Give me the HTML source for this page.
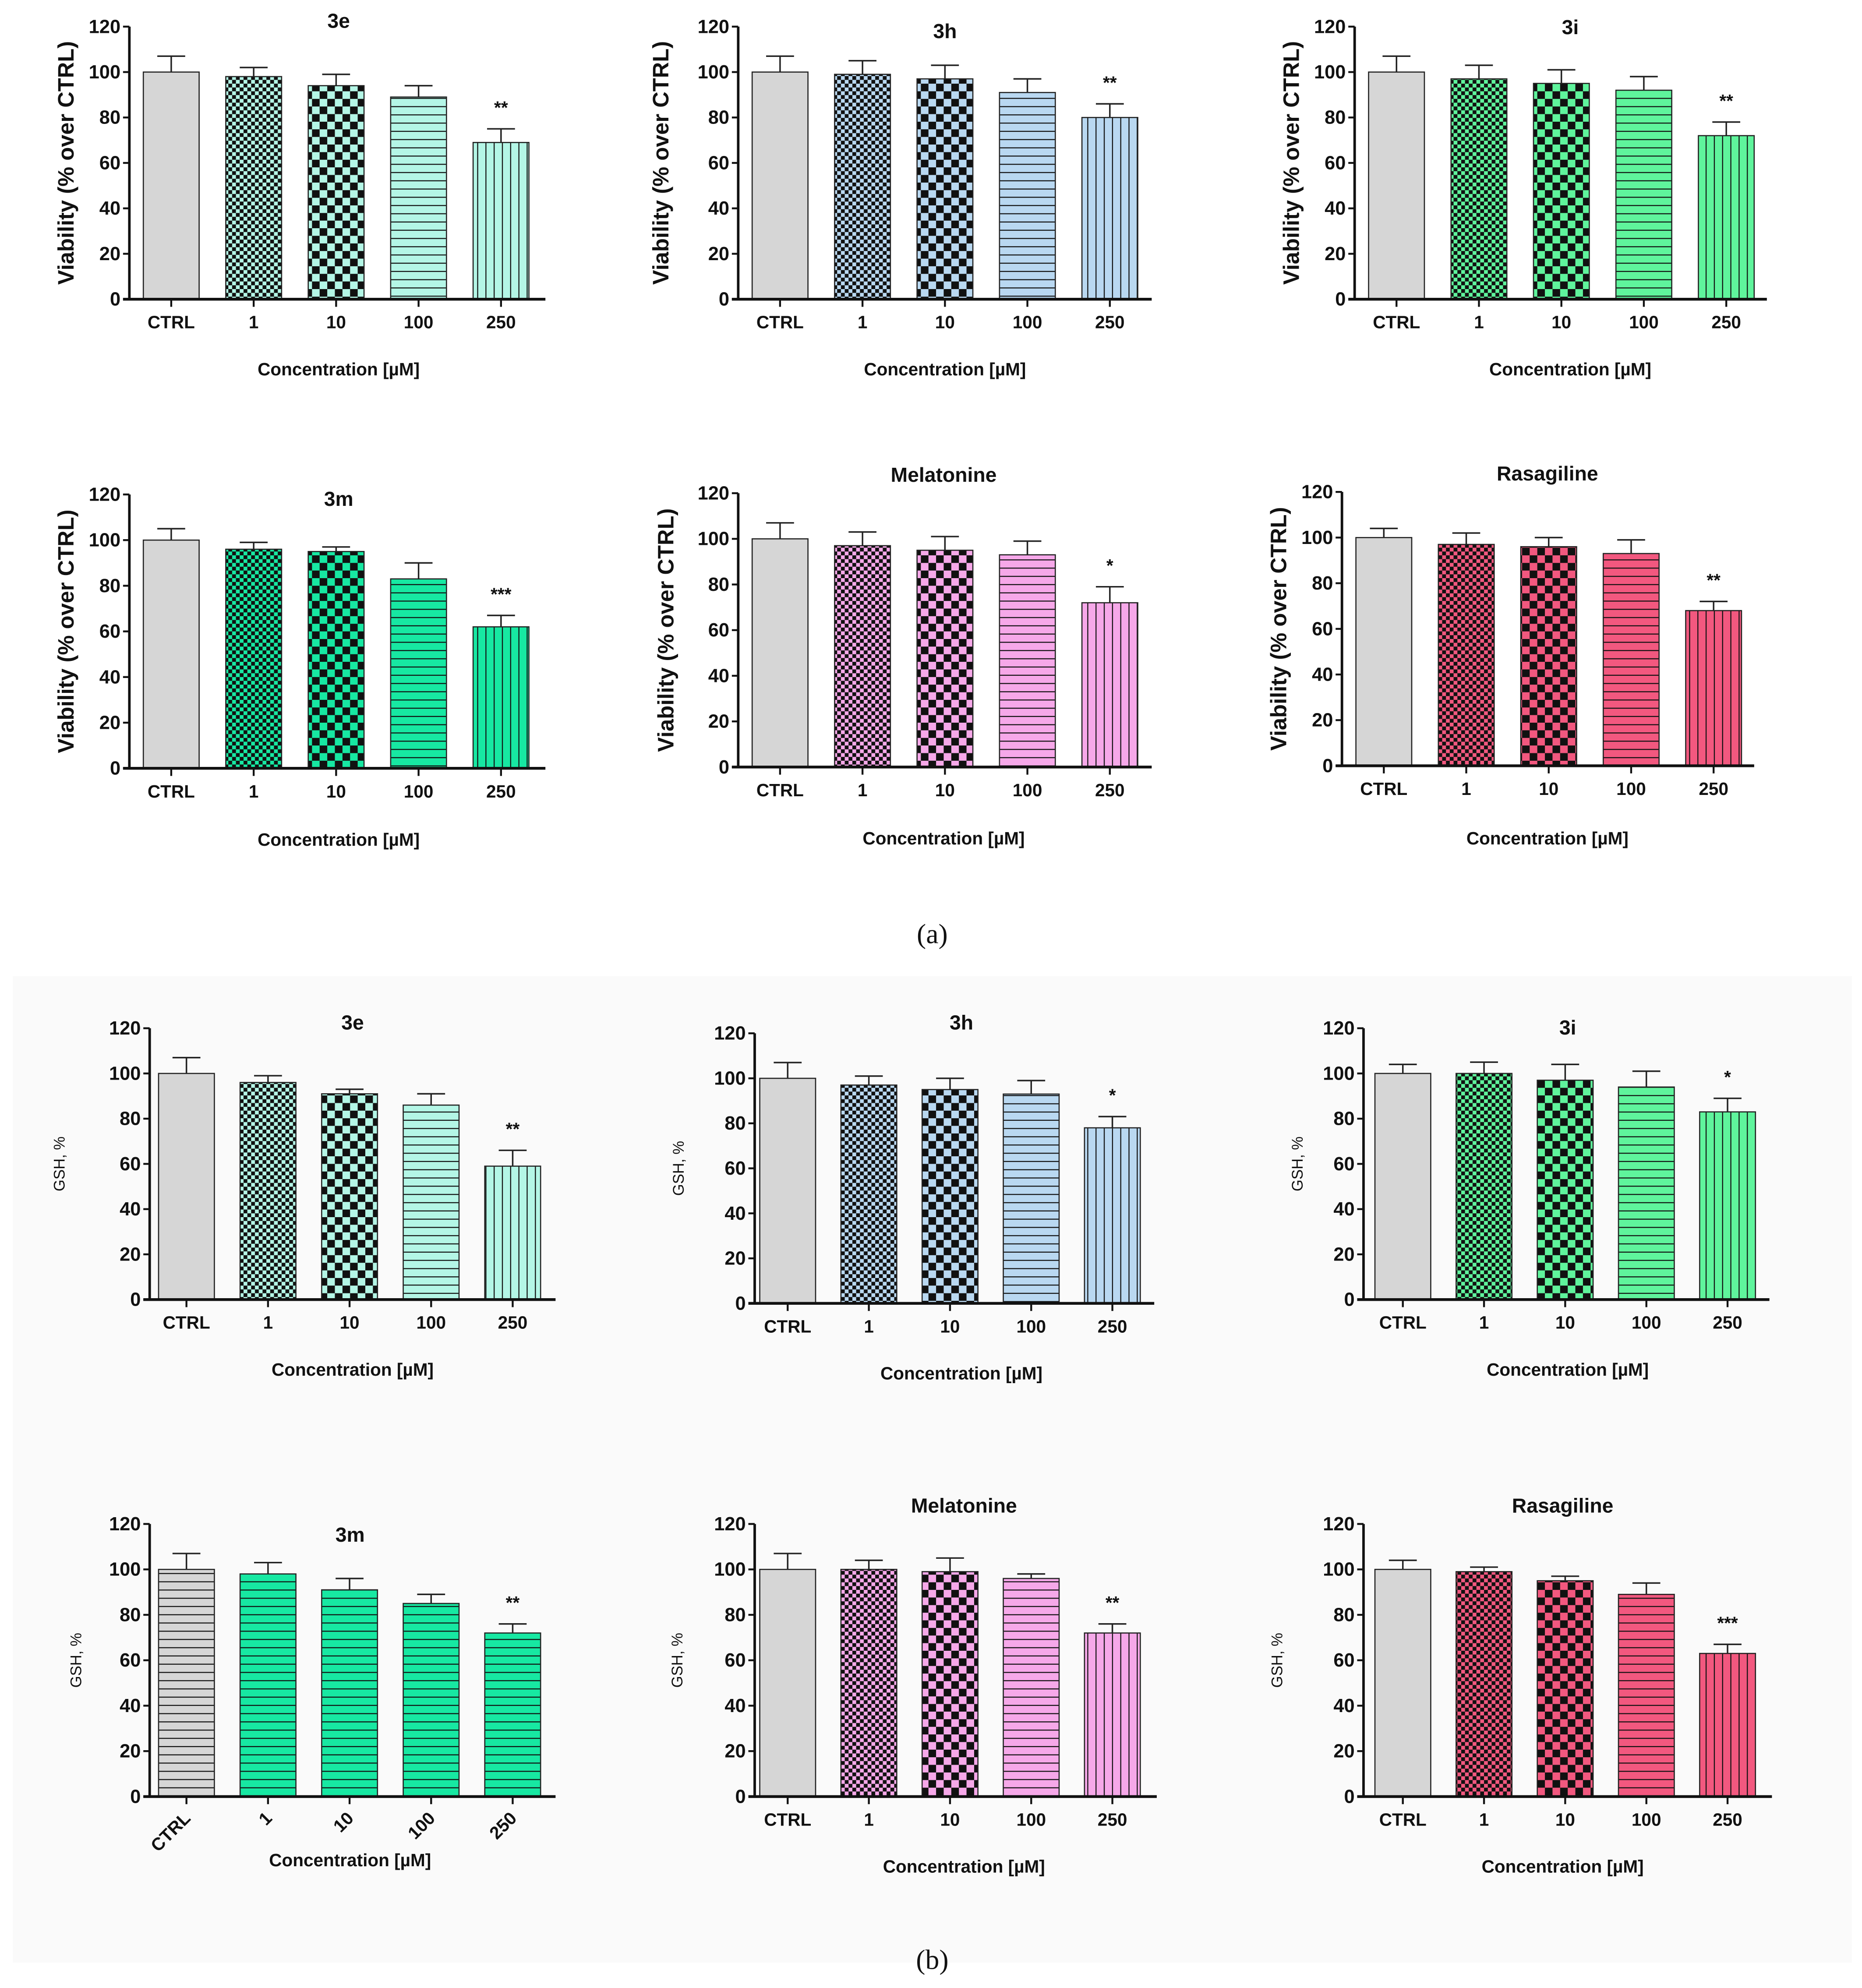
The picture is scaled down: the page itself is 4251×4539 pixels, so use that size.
<!DOCTYPE html>
<html><head><meta charset="utf-8">
<style>
html,body{margin:0;padding:0;background:#fff;}
svg{display:block;}
text{font-family:"Liberation Sans Narrow","Liberation Sans",sans-serif;fill:#111;}
</style></head>
<body>
<svg id="fig" width="4251" height="4539" viewBox="0 0 1468 1568" preserveAspectRatio="none" xmlns="http://www.w3.org/2000/svg">
<defs id="defs"></defs>
<rect x="10" y="770" width="1450" height="778" fill="#fafafa"/>
<text x="735" y="744" font-size="22" text-anchor="middle" style="font-family:'Liberation Serif',serif">(a)</text>
<text x="735" y="1553" font-size="22" text-anchor="middle" style="font-family:'Liberation Serif',serif">(b)</text>
</svg>
<script>
const categories = ["CTRL","1","10","100","250"];
const yTicks = [0,20,40,60,80,100,120];
// Panel (a) viability
const a3eVals = [100,98,94,89,69];   const a3eErr = [107,102,99,94,75];
const a3hVals = [100,99,97,91,80];   const a3hErr = [107,105,103,97,86];
const a3iVals = [100,97,95,92,72];   const a3iErr = [107,103,101,98,78];
const a3mVals = [100,96,95,83,62];   const a3mErr = [105,99,97,90,67];
const aMelVals = [100,97,95,93,72];  const aMelErr = [107,103,101,99,79];
const aRasVals = [100,97,96,93,68];  const aRasErr = [104,102,100,99,72];
// Panel (b) GSH
const b3eVals = [100,96,91,86,59];   const b3eErr = [107,99,93,91,66];
const b3hVals = [100,97,95,93,78];   const b3hErr = [107,101,100,99,83];
const b3iVals = [100,100,97,94,83];  const b3iErr = [104,105,104,101,89];
const b3mVals = [100,98,91,85,72];   const b3mErr = [107,103,96,89,76];
const bMelVals = [100,100,99,96,72]; const bMelErr = [107,104,105,98,76];
const bRasVals = [100,99,95,89,63];  const bRasErr = [104,101,97,94,67];
const sigA = ["**","**","**","***","*","**"];
const sigB = ["**","*","*","**","**","***"];

const NS="http://www.w3.org/2000/svg";
const svg=document.getElementById('fig');
const defs=document.getElementById('defs');
function mk(tag,attrs,parent){const e=document.createElementNS(NS,tag);for(const k in attrs)e.setAttribute(k,attrs[k]);(parent||svg).appendChild(e);return e;}

const colors={e:"#b4f6e6",h:"#b9d8f1",i:"#5ff49c",m:"#17e8a2",mel:"#f6a8e9",ras:"#f2587f"};
function makePatterns(key,col){
  let p=mk('pattern',{id:key+'-fine',width:6,height:6,patternUnits:'userSpaceOnUse'},defs);
  mk('rect',{width:6,height:6,fill:col},p);mk('rect',{width:3,height:3,fill:'#111'},p);mk('rect',{x:3,y:3,width:3,height:3,fill:'#111'},p);
  p=mk('pattern',{id:key+'-coarse',width:12,height:12,patternUnits:'userSpaceOnUse'},defs);
  mk('rect',{width:12,height:12,fill:col},p);mk('rect',{width:6,height:6,fill:'#111'},p);mk('rect',{x:6,y:6,width:6,height:6,fill:'#111'},p);
  p=mk('pattern',{id:key+'-hor',width:10,height:6.5,patternUnits:'userSpaceOnUse'},defs);
  mk('rect',{width:10,height:6.5,fill:col},p);mk('rect',{y:5.7,width:10,height:0.9,fill:'#111'},p);
  p=mk('pattern',{id:key+'-ver',width:6.5,height:10,patternUnits:'userSpaceOnUse'},defs);
  mk('rect',{width:6.5,height:10,fill:col},p);mk('rect',{x:5.7,width:0.9,height:10,fill:'#111'},p);
}
for(const k in colors)makePatterns(k,colors[k]);
makePatterns('gray','#d6d6d6');

function panel(id,cfg,vals,errs,sig){
  const g=mk('g',{});
  
  
  const y=v=>cfg.bottom-(v/120)*(cfg.bottom-cfg.top);
  const x=i=>cfg.x0+cfg.step*i;
  const bw=cfg.bw||44;
  vals.forEach((v,i)=>{
    let fill;
    if(i===0) fill = cfg.ctrlFill||'#d6d6d6';
    else fill = 'url(#'+cfg.key+'-'+(cfg.pats? cfg.pats[i]:['','fine','coarse','hor','ver'][i])+')';
    const r=mk('rect',{x:x(i)-bw/2,y:y(v),width:bw,height:y(0)-y(v),fill:fill,stroke:'#222','stroke-width':0.9},g);
    
    
    const e=mk('path',{d:`M${x(i)},${y(v)}V${y(errs[i])}M${x(i)-11},${y(errs[i])}H${x(i)+11}`,stroke:'#222','stroke-width':1.2,fill:'none'},g);
    
    
    mk('line',{x1:x(i),x2:x(i),y1:y(0),y2:y(0)+6,stroke:'#111','stroke-width':1.5},g);
    let t;
    if(cfg.rot){
      t=mk('text',{x:x(i)+4,y:y(0)+18,'font-size':14,'font-weight':'bold','text-anchor':'end',transform:`rotate(-45 ${x(i)+4} ${y(0)+18})`},g);
    } else {
      t=mk('text',{x:x(i),y:y(0)+23,'font-size':14,'font-weight':'bold','text-anchor':'middle'},g);
    }
    t.textContent=categories[i];
    
    
  });
  mk('line',{x1:cfg.ax,x2:cfg.ax,y1:cfg.top,y2:y(0),stroke:'#111','stroke-width':2},g);
  mk('line',{x1:cfg.ax-5,x2:cfg.end,y1:y(0),y2:y(0),stroke:'#111','stroke-width':2.2},g);
  yTicks.forEach(v=>{
    mk('line',{x1:cfg.ax-5,x2:cfg.ax,y1:y(v),y2:y(v),stroke:'#111','stroke-width':1.5},g);
    const t=mk('text',{x:cfg.ax-7,y:y(v)+5,'font-size':15,'font-weight':'bold','text-anchor':'end'},g);
    t.textContent=v;
    
    
  });
  const s=mk('text',{x:x(4),y:y(errs[4])-12,'font-size':14,'font-weight':'bold','text-anchor':'middle'},g);
  s.textContent=sig;
  
  
  const ti=mk('text',{x:cfg.tx,y:cfg.ty,'font-size':16,'font-weight':'bold','text-anchor':'middle'},g);
  ti.textContent=cfg.title;
  
  
  const xl=mk('text',{x:cfg.tx,y:cfg.xly,'font-size':14,'font-weight':'bold','text-anchor':'middle'},g);
  xl.textContent='Concentration [\u00b5M]';
  
  
  const ymid=(cfg.top+cfg.bottom)/2;
  const yl=mk('text',{x:cfg.ylx,y:ymid,'font-size':cfg.gsh?12:17.5,'font-weight':cfg.gsh?'normal':'bold','text-anchor':'middle',transform:`rotate(-90 ${cfg.ylx} ${ymid})`,style:"font-family:'Liberation Sans',sans-serif"},g);
  yl.textContent=cfg.gsh?'GSH, %':'Viability (% over CTRL)';
  
  
}

panel('chart-a-3e',{key:'e',ax:102,top:21,bottom:236,end:430,x0:135,step:65,tx:267,ty:22,xly:296,ylx:58,title:'3e'},a3eVals,a3eErr,sigA[0]);
panel('chart-a-3h',{key:'h',ax:582,top:21,bottom:236,end:908,x0:615,step:65,tx:745,ty:30,xly:296,ylx:527,title:'3h'},a3hVals,a3hErr,sigA[1]);
panel('chart-a-3i',{key:'i',ax:1068,top:21,bottom:236,end:1393,x0:1101,step:65,tx:1238,ty:27,xly:296,ylx:1024,title:'3i'},a3iVals,a3iErr,sigA[2]);
panel('chart-a-3m',{key:'m',ax:102,top:390,bottom:606,end:430,x0:135,step:65,tx:267,ty:399,xly:667,ylx:58,title:'3m'},a3mVals,a3mErr,sigA[3]);
panel('chart-a-melatonine',{key:'mel',ax:582,top:389,bottom:605,end:908,x0:615,step:65,tx:744,ty:380,xly:666,ylx:531,title:'Melatonine'},aMelVals,aMelErr,sigA[4]);
panel('chart-a-rasagiline',{key:'ras',ax:1058,top:388,bottom:604,end:1383,x0:1091,step:65,tx:1220,ty:379,xly:666,ylx:1014,title:'Rasagiline'},aRasVals,aRasErr,sigA[5]);

panel('chart-b-3e',{key:'e',gsh:1,ax:118,top:811,bottom:1025,end:438,x0:147,step:64.3,tx:278,ty:812,xly:1085,ylx:51,title:'3e'},b3eVals,b3eErr,sigB[0]);
panel('chart-b-3h',{key:'h',gsh:1,ax:595,top:815,bottom:1028,end:910,x0:621,step:64,tx:758,ty:812,xly:1088,ylx:539,title:'3h'},b3hVals,b3hErr,sigB[1]);
panel('chart-b-3i',{key:'i',gsh:1,ax:1075,top:811,bottom:1025,end:1395,x0:1106,step:64,tx:1236,ty:816,xly:1085,ylx:1027,title:'3i'},b3iVals,b3iErr,sigB[2]);
panel('chart-b-3m',{key:'m',gsh:1,rot:1,ctrlFill:'url(#gray-hor)',pats:['','hor','hor','hor','hor'],ax:118,top:1202,bottom:1417,end:438,x0:147,step:64.3,tx:276,ty:1216,xly:1472,ylx:64,title:'3m'},b3mVals,b3mErr,sigB[3]);
panel('chart-b-melatonine',{key:'mel',gsh:1,ax:595,top:1202,bottom:1417,end:912,x0:621,step:64,tx:760,ty:1193,xly:1477,ylx:538,title:'Melatonine'},bMelVals,bMelErr,sigB[4]);
panel('chart-b-rasagiline',{key:'ras',gsh:1,ax:1075,top:1202,bottom:1417,end:1397,x0:1106,step:64,tx:1232,ty:1193,xly:1477,ylx:1011,title:'Rasagiline'},bRasVals,bRasErr,sigB[5]);
</script>
</body></html>
